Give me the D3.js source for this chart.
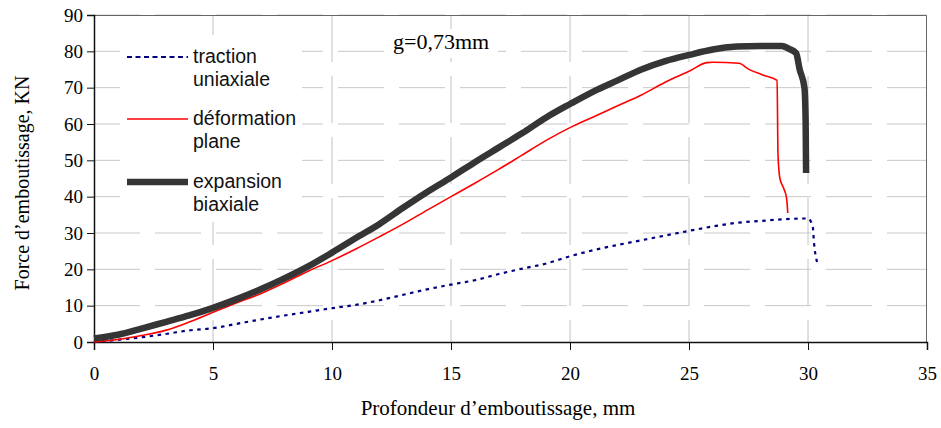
<!DOCTYPE html>
<html>
<head>
<meta charset="utf-8">
<script src="https://cdn.jsdelivr.net/npm/d3@7"></script>
<style>
  body { margin: 0; background: #fff; }
</style>
</head>
<body>
<div id="chart"></div>
<script>
// tick labels
var xTicks = [0, 5, 10, 15, 20, 25, 30, 35]
var yTicks = [0, 10, 20, 30, 40, 50, 60, 70, 80, 90]

// traction uniaxiale
var uniX = [0, 1, 2, 3, 4, 5, 6, 7, 8, 9, 10, 11, 12, 13, 14, 15, 16, 17, 18, 19, 20, 21, 22, 23, 24, 25, 26, 27, 28, 29, 30, 30.2, 30.25, 30.38]
var uniY = [0, 0.6, 1.3, 2.2, 3.2, 3.8, 5, 6.2, 7.3, 8.3, 9.3, 10.2, 11.5, 13, 14.5, 15.8, 17, 18.7, 20.2, 21.6, 23.6, 25.3, 26.7, 28, 29.3, 30.6, 31.8, 32.8, 33.3, 33.8, 34, 31.7, 27.5, 22]

// deformation plane
var planeX = [0, 1, 2, 3, 4, 5, 6, 7, 8, 9, 10, 11, 12, 13, 14, 15, 16, 17, 18, 19, 20, 21, 22, 23, 24, 25, 25.75, 26, 27.1, 27.5, 28.1, 28.7, 28.74, 28.82, 28.95, 29.1, 29.15]
var planeY = [0, 0.7, 1.8, 3.2, 5.5, 8.2, 10.8, 13.3, 16.3, 19.5, 22.4, 25.6, 29, 32.5, 36.3, 40, 43.7, 47.5, 51.5, 55.5, 59, 62, 65, 68, 71.5, 74.5, 76.9, 77, 76.7, 75.1, 73.5, 72, 51.5, 45, 42.7, 39.6, 35.5]

// expansion biaxiale
var biaxX = [0, 1, 2, 3, 4, 5, 6, 7, 8, 9, 10, 11, 12, 13, 14, 15, 16, 17, 18, 19, 20, 21, 22, 23, 24, 25, 26, 27, 28, 28.9, 29.2, 29.5, 29.65, 29.85, 29.9, 29.92]
var biaxY = [1, 2, 3.7, 5.5, 7.3, 9.4, 11.8, 14.5, 17.5, 20.8, 24.6, 28.6, 32.5, 37, 41.3, 45.3, 49.5, 53.5, 57.5, 61.8, 65.5, 69, 72, 75, 77.3, 79, 80.5, 81.3, 81.5, 81.5, 80.7, 79.5, 75, 70, 61, 46.5]

var legendLabels = [["traction", "uniaxiale"], ["déformation", "plane"], ["expansion", "biaxiale"]]

var margin = {top: 15, right: 14, bottom: 86, left: 94},
    width = 941 - margin.left - margin.right,
    height = 428 - margin.top - margin.bottom

var svg = d3.select("#chart")
    .append("svg")
    .attr("width", 941)
    .attr("height", 428)
    .append("g")
    .attr("transform", "translate(" + margin.left + "," + margin.top + ")")

var scale_x = d3.scaleLinear().domain([0, 35]).range([0, width])
var scale_y = d3.scaleLinear().domain([0, 90]).range([height, 0])

var serif = "'Liberation Serif', 'Times New Roman', serif"
var sans = "'Liberation Sans', Arial, sans-serif"

// grid
svg.selectAll("hgrid")
    .data(yTicks.slice(1))
    .enter()
    .append("line")
    .attr("x1", 0).attr("x2", width)
    .attr("y1", d => scale_y(d)).attr("y2", d => scale_y(d))
    .attr("stroke", "#c8c8c8")
    .attr("stroke-width", 1)
    .attr("stroke-dasharray", "46,15")

svg.selectAll("vgrid")
    .data(xTicks.slice(1, -1))
    .enter()
    .append("line")
    .attr("x1", d => scale_x(d)).attr("x2", d => scale_x(d))
    .attr("y1", 0).attr("y2", height)
    .attr("stroke", "#c2c2c2")
    .attr("stroke-width", 1)
    .attr("stroke-dasharray", "47,14")

// plot border (top / right)
svg.append("path")
    .attr("d", "M0,0.5H" + (width - 0.5) + "V" + height)
    .attr("fill", "none")
    .attr("stroke", "#666")
    .attr("stroke-width", 1)

// white boxes behind legend and annotation
svg.append("rect")
    .attr("x", 26).attr("y", 20).attr("width", 182).attr("height", 187)
    .attr("fill", "#fff")
svg.append("rect")
    .attr("x", 292).attr("y", 14).attr("width", 112).attr("height", 29)
    .attr("fill", "#fff")

// axes
var xAxis = svg.append("g")
    .attr("transform", "translate(0," + height + ")")
    .call(d3.axisBottom(scale_x).tickValues(xTicks).tickSize(8).tickPadding(17))
var yAxis = svg.append("g")
    .call(d3.axisLeft(scale_y).tickValues(yTicks).tickSize(7).tickPadding(4))

for (var ax of [xAxis, yAxis]) {
    ax.select(".domain").attr("stroke", "#111").attr("stroke-width", 1.5)
    ax.selectAll(".tick line").attr("stroke", "#111")
    ax.selectAll("text")
        .attr("fill", "#000")
        .style("font-family", serif)
        .style("font-size", "19px")
}

// series
var line = d3.line()
    .x(d => scale_x(d[0]))
    .y(d => scale_y(d[1]))
    .curve(d3.curveMonotoneX)

svg.append("path")
    .datum(uniX.map((v, i) => [v, uniY[i]]))
    .attr("d", line)
    .attr("fill", "none")
    .attr("stroke", "#000080")
    .attr("stroke-width", 2.2)
    .attr("stroke-dasharray", "3.5,4.5")

svg.append("path")
    .datum(planeX.map((v, i) => [v, planeY[i]]))
    .attr("d", line)
    .attr("fill", "none")
    .attr("stroke", "#ff0000")
    .attr("stroke-width", 1.6)

svg.append("path")
    .datum(biaxX.map((v, i) => [v, biaxY[i]]))
    .attr("d", line)
    .attr("fill", "none")
    .attr("stroke", "#353535")
    .attr("stroke-width", 6.5)

// legend
var legStyles = [
    {stroke: "#000080", w: 2.2, dash: "5,3.5"},
    {stroke: "#ff0000", w: 1.6, dash: null},
    {stroke: "#353535", w: 6.5, dash: null}
]
var legY = [42, 104, 167]

legendLabels.forEach(function(lab, i) {
    svg.append("line")
        .attr("x1", 33).attr("x2", 94)
        .attr("y1", legY[i]).attr("y2", legY[i])
        .attr("stroke", legStyles[i].stroke)
        .attr("stroke-width", legStyles[i].w)
        .attr("stroke-dasharray", legStyles[i].dash)
    svg.append("text")
        .attr("x", 99)
        .attr("y", legY[i] + 6)
        .style("font-family", sans)
        .style("font-size", "19.5px")
        .attr("fill", "#111")
        .text(lab[0])
    svg.append("text")
        .attr("x", 99)
        .attr("y", legY[i] + 29)
        .style("font-family", sans)
        .style("font-size", "19.5px")
        .attr("fill", "#111")
        .text(lab[1])
})

// annotation
svg.append("text")
    .attr("x", 299)
    .attr("y", 34)
    .style("font-family", serif)
    .style("font-size", "22px")
    .text("g=0,73mm")

// axis titles
d3.select("svg").append("text")
    .attr("x", 498)
    .attr("y", 415)
    .attr("text-anchor", "middle")
    .style("font-family", serif)
    .style("font-size", "21px")
    .text("Profondeur d\u2019emboutissage, mm")

d3.select("svg").append("text")
    .attr("transform", "translate(29,183) rotate(-90)")
    .attr("text-anchor", "middle")
    .style("font-family", serif)
    .style("font-size", "20px")
    .text("Force d\u2019emboutissage, KN")
</script>
</body>
</html>
